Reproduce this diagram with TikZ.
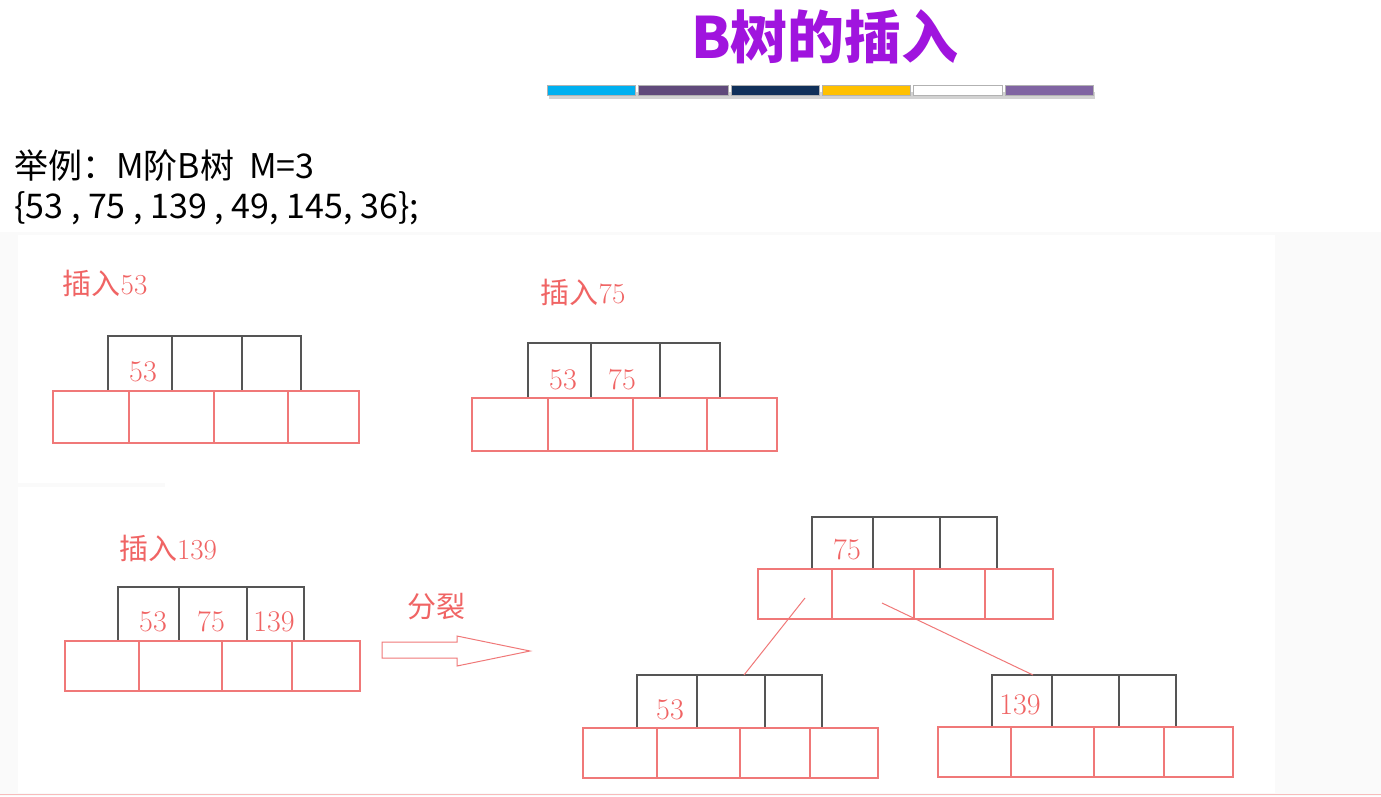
\documentclass[tikz,border=0pt]{standalone}
\usepackage{fontspec}
\newfontfamily\cjkfont{Noto Sans CJK SC}
\definecolor{titlepurple}{RGB}{160,20,222}
\definecolor{keyred}{RGB}{240,100,100}
\definecolor{boxred}{RGB}{240,120,120}
\definecolor{keygray}{RGB}{85,85,85}
\definecolor{bgpaper}{RGB}{250,250,250}
\definecolor{barA}{RGB}{0,176,240}
\definecolor{barB}{RGB}{96,74,123}
\definecolor{barC}{RGB}{16,48,90}
\definecolor{barD}{RGB}{255,192,0}
\definecolor{barE}{RGB}{255,255,255}
\definecolor{barF}{RGB}{128,100,162}

\begin{document}
\begin{tikzpicture}[x=1pt, y=-1pt,
		keyline/.style={draw=keygray, line width=1.4pt},
		ptrline/.style={draw=boxred, line width=1.2pt},
		keytext/.style={text=keyred, font=\fontsize{30}{36}\selectfont, inner sep=0pt},
		steplabel/.style={text=keyred, font=\fontsize{29}{34}\selectfont, inner sep=0pt},
		barseg/.style={line width=0.8pt, draw=gray!60}]
		\useasboundingbox (0, 0) rectangle (1381, 796);
		\fill[bgpaper] (0, 0) rectangle (1381, 796);
		\fill[white] (0, 0) rectangle (1381, 232);
		\fill[white] (18, 235) rectangle (1275, 483);
		\fill[white] (18, 487) rectangle (1275, 793);
		\fill[white] (165, 480) rectangle (1275, 490);
		\draw[boxred!50, line width=1.5pt] (0, 794.5) -- (1381, 794.5);

		% title and colour bar
		\node[text=titlepurple, font=\cjkfont\bfseries\fontsize{57}{62}\selectfont] (title) at (825, 37) {B树的插入};
		\fill[gray!35] (549, 92) rectangle (1095, 99);
		\filldraw[barseg, fill=barA] (547, 85) rectangle (635, 95);
		\filldraw[barseg, fill=barB] (638, 85) rectangle (728, 95);
		\filldraw[barseg, fill=barC] (731, 85) rectangle (819, 95);
		\filldraw[barseg, fill=barD] (822, 85) rectangle (910, 95);
		\filldraw[barseg, fill=barE] (913, 85) rectangle (1002, 95);
		\filldraw[barseg, fill=barF] (1005, 85) rectangle (1093, 95);

		\node[anchor=west, inner sep=0pt, font=\cjkfont\fontsize{34}{40}\selectfont] (example) at (14, 166) {举例：M阶B树\ \ M=3};
		\node[anchor=west, inner sep=0pt, font=\cjkfont\fontsize{34}{40}\selectfont] (keys) at (14, 208) {\{53 , 75 , 139 , 49, 145, 36\};};

		% insert 53
		\node[steplabel] (ins53) at (105, 283) {{\cjkfont 插入}53};
		\draw[keyline] (108, 391) -- (108, 336) -- (301, 336) -- (301, 391);
		\draw[keyline] (172, 336) -- (172, 391);
		\draw[keyline] (242, 336) -- (242, 391);
		\draw[ptrline] (53, 391) rectangle (359, 443);
		\draw[ptrline] (129, 391) -- (129, 443);
		\draw[ptrline] (214, 391) -- (214, 443);
		\draw[ptrline] (288, 391) -- (288, 443);
		\node[keytext] (aKeyA) at (143, 372) {53};

		% insert 75
		\node[steplabel] (ins75) at (583, 292) {{\cjkfont 插入}75};
		\draw[keyline] (528, 398) -- (528, 343) -- (720, 343) -- (720, 398);
		\draw[keyline] (591, 343) -- (591, 398);
		\draw[keyline] (660, 343) -- (660, 398);
		\draw[ptrline] (472, 398) rectangle (777, 451);
		\draw[ptrline] (548, 398) -- (548, 451);
		\draw[ptrline] (633, 398) -- (633, 451);
		\draw[ptrline] (707, 398) -- (707, 451);
		\node[keytext] (bKeyA) at (563, 380) {53};
		\node[keytext] (bKeyB) at (622, 380) {75};

		% insert 139
		\node[steplabel] (ins139) at (168, 548) {{\cjkfont 插入}139};
		\draw[keyline] (118, 641) -- (118, 587) -- (304, 587) -- (304, 641);
		\draw[keyline] (179, 587) -- (179, 641);
		\draw[keyline] (247, 587) -- (247, 641);
		\draw[ptrline] (65, 641) rectangle (360, 691);
		\draw[ptrline] (139, 641) -- (139, 691);
		\draw[ptrline] (222, 641) -- (222, 691);
		\draw[ptrline] (292, 641) -- (292, 691);
		\node[keytext] (cKeyA) at (153, 622) {53};
		\node[keytext] (cKeyB) at (211, 622) {75};
		\node[keytext] (cKeyC) at (274, 622) {139};

		% split arrow
		\node[steplabel] (split) at (436, 607) {\cjkfont 分裂};
		\draw[boxred, line width=1pt] (382, 642) -- (457, 642) -- (457, 636) -- (530, 651) -- (457, 666) -- (457, 658) -- (382, 658) -- cycle;

		% root after split
		\draw[keyline] (812, 569) -- (812, 517) -- (997, 517) -- (997, 569);
		\draw[keyline] (873, 517) -- (873, 569);
		\draw[keyline] (940, 517) -- (940, 569);
		\draw[ptrline] (758, 569) rectangle (1053, 619);
		\draw[ptrline] (832, 569) -- (832, 619);
		\draw[ptrline] (914, 569) -- (914, 619);
		\draw[ptrline] (985, 569) -- (985, 619);
		\node[keytext] (rootKey) at (847, 550) {75};

		% left child
		\draw[keyline] (637, 728) -- (637, 675) -- (822, 675) -- (822, 728);
		\draw[keyline] (697, 675) -- (697, 728);
		\draw[keyline] (765, 675) -- (765, 728);
		\draw[ptrline] (583, 728) rectangle (878, 778);
		\draw[ptrline] (657, 728) -- (657, 778);
		\draw[ptrline] (740, 728) -- (740, 778);
		\draw[ptrline] (810, 728) -- (810, 778);
		\node[keytext] (leftKey) at (670, 710) {53};

		% right child
		\draw[keyline] (992, 727) -- (992, 675) -- (1176, 675) -- (1176, 727);
		\draw[keyline] (1052, 675) -- (1052, 727);
		\draw[keyline] (1119, 675) -- (1119, 727);
		\draw[ptrline] (938, 727) rectangle (1233, 777);
		\draw[ptrline] (1011, 727) -- (1011, 777);
		\draw[ptrline] (1094, 727) -- (1094, 777);
		\draw[ptrline] (1164, 727) -- (1164, 777);
		\node[keytext] (rightKey) at (1020, 705) {139};

		% child pointers
		\coordinate (rootPtrA) at (805, 598);
		\coordinate (rootPtrB) at (882, 603);
		\coordinate (leftTop) at (744, 675);
		\coordinate (rightTop) at (1033, 675);
		\draw[boxred, line width=1pt] (rootPtrA) -- (leftTop);
		\draw[boxred, line width=1pt] (rootPtrB) -- (rightTop);
	\end{tikzpicture}
\end{document}
